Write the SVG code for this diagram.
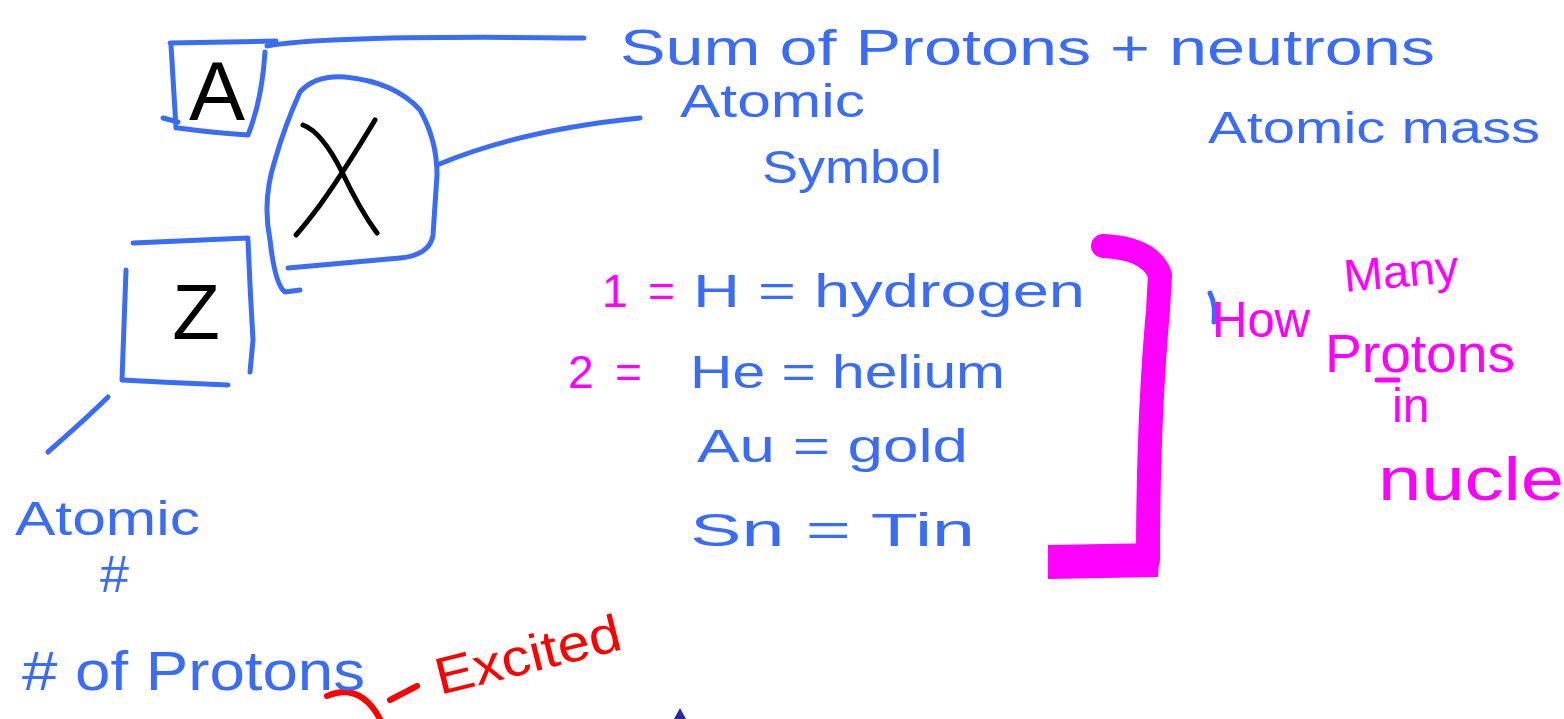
<svg xmlns="http://www.w3.org/2000/svg" width="1564" height="719" viewBox="0 0 1564 719">
<style>
.ln{fill:none;stroke-linecap:round;stroke-linejoin:round}
.b{stroke:#3a6cf6;stroke-width:5}
.k{stroke:#000;stroke-width:5}
.m{stroke:#ff00ff}
.r{stroke:#ff0000;stroke-width:6}
.t{font-family:"Liberation Sans",Arial,sans-serif}
.tb{fill:#3a6cf6}
.tm{fill:#ff00ff}
.tr{fill:#ff0000}
.tk{fill:#000}
</style>
<rect width="1564" height="719" fill="#fff"/>
<g id="node-A">
<path class="ln b" d="M170,43 L276,41 M171,45 L176,128 M163,118 L178,122 M178,128 Q215,133 248,135 M265,52 Q262,100 248,135"/>
<text class="t tk" x="217" y="120" font-size="84" text-anchor="middle">A</text>
</g>
<g id="node-X">
<path class="ln b" d="M300,92 Q315,75 345,77 Q395,82 420,110 Q437,140 437,175 L433,235 Q430,255 400,258 L288,268 M300,92 Q285,125 275,160 Q262,200 270,240 Q275,285 285,292 L300,290"/>
<path class="ln k" stroke-width="5.5" d="M303,125 Q322,132 342,172 Q360,210 377,233 M375,120 Q345,170 320,205 Q305,225 296,235"/>
</g>
<g id="node-Z">
<path class="ln b" d="M133,243 L248,238 M248,240 Q250,290 253,340 L250,372 M126,270 L122,380 Q175,383 228,385"/>
<text class="t tk" x="196" y="339" font-size="78" text-anchor="middle">Z</text>
</g>
<g id="connectors">
<path class="ln b" d="M267,46 Q330,35 584,38"/>
<path class="ln b" d="M437,165 Q520,130 640,118"/>
<path class="ln b" d="M108,397 Q90,415 48,452"/>
<path class="ln m" stroke-width="24" d="M1103,246 Q1150,248 1160,275 L1158,310 Q1148,420 1148,560"/>
<path d="M1048,545 L1160,543 L1158,577 L1048,579 Z" fill="#ff00ff"/>
<path class="ln r" d="M327,696 Q360,682 380,719 M390,700 L417,686"/>
<path class="ln b" d="M1210,293 Q1216,305 1214,322"/>
<path d="M674,719 L680,708 L686,719 Z" fill="#2a2aa0"/>
</g>
<g id="labels">
<text class="t tb" x="620" y="65" font-size="50" textLength="815" lengthAdjust="spacingAndGlyphs">Sum of Protons + neutrons</text>
<text class="t tb" x="680" y="117" font-size="46" textLength="185" lengthAdjust="spacingAndGlyphs">Atomic</text>
<text class="t tb" x="762" y="183" font-size="46" textLength="180" lengthAdjust="spacingAndGlyphs">Symbol</text>
<text class="t tb" x="1208" y="143" font-size="44" textLength="332" lengthAdjust="spacingAndGlyphs">Atomic mass</text>
<text class="t tm" x="602" y="307" font-size="46">1</text>
<text class="t tm" x="648" y="307" font-size="46">=</text>
<text class="t tb" x="693" y="307" font-size="46" textLength="392" lengthAdjust="spacingAndGlyphs">H = hydrogen</text>
<text class="t tm" x="568" y="388" font-size="46">2</text>
<text class="t tm" x="615" y="388" font-size="46">=</text>
<text class="t tb" x="690" y="388" font-size="46" textLength="315" lengthAdjust="spacingAndGlyphs">He = helium</text>
<text class="t tb" x="697" y="462" font-size="46" textLength="271" lengthAdjust="spacingAndGlyphs">Au = gold</text>
<text class="t tb" x="690" y="546" font-size="46" textLength="285" lengthAdjust="spacingAndGlyphs">Sn = Tin</text>
<text class="t tm" x="1212" y="337" font-size="50" textLength="98" lengthAdjust="spacingAndGlyphs">How</text>
<text class="t tm" x="1345" y="292" font-size="46" transform="rotate(-5 1345 292)" textLength="115" lengthAdjust="spacingAndGlyphs">Many</text>
<text class="t tm" x="1325" y="372" font-size="54" textLength="190" lengthAdjust="spacingAndGlyphs">Protons</text>
<path class="ln m" stroke-width="5" d="M1377,380 L1398,380"/>
<text class="t tm" x="1392" y="422" font-size="48">in</text>
<text class="t tm" x="1378" y="500" font-size="62" textLength="186" lengthAdjust="spacingAndGlyphs">nucle</text>
<text class="t tb" x="15" y="535" font-size="48" textLength="185" lengthAdjust="spacingAndGlyphs">Atomic</text>
<text class="t tb" x="100" y="592" font-size="52">#</text>
<text class="t tb" x="22" y="690" font-size="56" textLength="343" lengthAdjust="spacingAndGlyphs"># of Protons</text>
<text class="t tr" x="440" y="695" font-size="52" transform="rotate(-14 440 695)" textLength="190" lengthAdjust="spacingAndGlyphs">Excited</text>
</g>
</svg>
